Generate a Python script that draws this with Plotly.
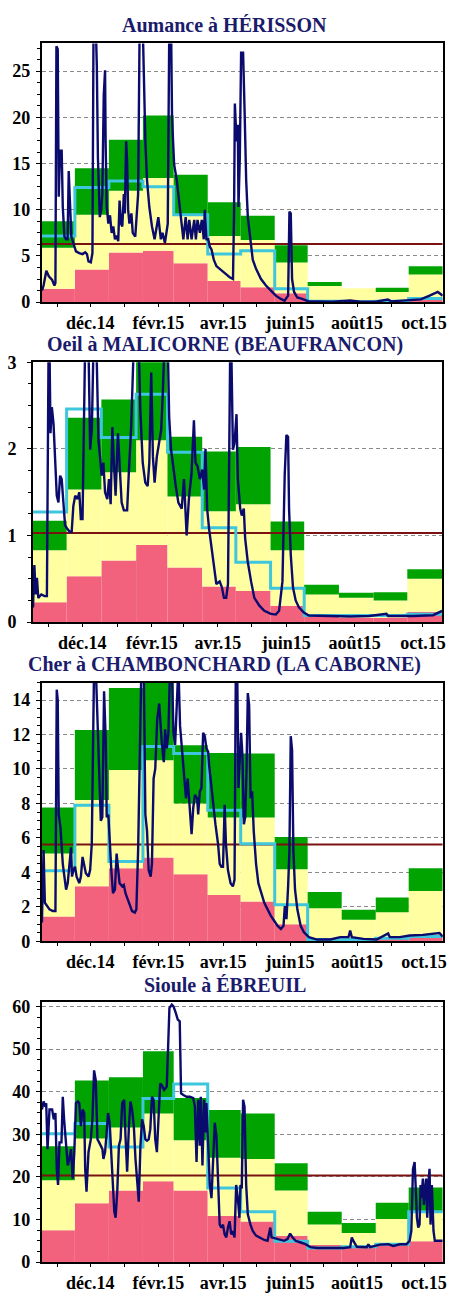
import pandas as pd
import plotly.graph_objects as go

# ---------------- data ----------------
titles = ["Aumance à HÉRISSON", "Oeil à MALICORNE (BEAUFRANCON)",
          "Cher à CHAMBONCHARD (LA CABORNE)", "Sioule à ÉBREUIL"]
tick_labels = ["", "déc.14", "", "févr.15", "", "avr.15", "", "juin15", "", "août15", "", "oct.15"]

# monthly bands (Nov 2014 .. Oct 2015): pink top, green bottom, green top
p1_low = [1.46, 3.52, 5.37, 5.55, 4.2, 2.28, 1.6, 0.95, 0.12, 0.1, 0.1, 0.3]
p1_mid = [5.9, 9.46, 12.06, 13.44, 9.46, 7.15, 6.72, 4.3, 1.74, 1.5, 1.1, 2.99]
p1_high = [8.75, 14.5, 17.57, 20.2, 13.8, 10.8, 9.35, 6.15, 2.17, 1.5, 1.56, 3.88]
p1_mean = [7.15, 12.4, 13.1, 12.5, 9.46, 5.2, 5.55, 1.46, 0.1, 0.05, 0.1, 0.4]
p1_module = 6.3

p2_low = [0.23, 0.53, 0.71, 0.89, 0.63, 0.41, 0.36, 0.19, 0.07, 0.05, 0.05, 0.12]
p2_mid = [0.83, 1.53, 1.73, 2.1, 1.45, 1.28, 1.36, 0.83, 0.32, 0.28, 0.25, 0.5]
p2_high = [1.17, 2.36, 2.57, 3.1, 2.14, 1.97, 2.02, 1.16, 0.43, 0.34, 0.345, 0.61]
p2_mean = [1.27, 2.46, 2.13, 2.63, 1.96, 1.09, 0.69, 0.39, 0.075, 0.075, 0.075, 0.09]
p2_module = 1.03

p3_low = [1.44, 3.2, 4.25, 4.86, 3.9, 2.69, 2.31, 0.99, 0.18, 0.15, 0.18, 0.36]
p3_mid = [5.1, 8.2, 9.94, 10.5, 8.0, 7.19, 7.19, 4.19, 1.92, 1.25, 1.69, 2.92]
p3_high = [7.76, 12.26, 14.69, 15.5, 11.37, 10.93, 10.9, 6.05, 2.87, 1.84, 2.54, 4.25]
p3_mean = [4.1, 7.9, 4.63, 11.3, 10.9, 7.6, 5.67, 2.13, 0.11, 0.11, 0.19, 0.28]
p3_module = 5.62

p4_low = [7.46, 13.8, 16.8, 19.0, 16.8, 10.8, 9.5, 6.2, 4.0, 3.8, 4.15, 4.9]
p4_mid = [19.2, 29.0, 31.6, 34.9, 28.6, 24.5, 24.2, 16.8, 8.8, 6.85, 10.1, 11.8]
p4_high = [27.2, 42.6, 43.4, 49.5, 38.5, 35.7, 34.9, 23.2, 11.8, 9.15, 13.9, 17.5]
p4_mean = [30.1, 32.5, 27.0, 38.4, 41.8, 17.4, 11.8, 4.9, 3.3, 3.6, 4.2, 11.8]
p4_module = 20.3

# daily flows: day offset from 2014-11-01, value (off-scale peaks estimated)
q1_day = [0, 1.5, 4, 6.3, 9.3, 11.4, 12.3, 13.2, 14.4, 15.3, 16.5, 18, 19, 20.5, 22, 23.4, 24.4, 25.6,
          26.8, 28.6, 31, 34, 37, 39.4, 41, 42.4, 44.5, 46, 47, 49, 50, 51, 52.7, 54, 55, 56.3, 57.5,
          58, 59, 60.5, 62, 63.5, 65, 66.5, 68, 69.5, 70.7, 72, 73.2, 74.6, 75.5, 76.7, 77.6, 78.5,
          79.7, 81.5, 82.7, 85, 87.6, 89, 91.8, 94.2, 95.7, 97.8, 100.2, 102.6, 104.7, 106, 108.3,
          109.8, 112, 114.6, 116, 117.6, 118.5, 120.4, 122.8, 124.3, 126.7, 128.8, 130.9, 132.7,
          134.2, 136.3, 138.7, 140.2, 141.7, 143.8, 145.6, 147.4, 148.3, 149.8, 151.4, 152.9, 154.4,
          156.5, 158.9, 161.9, 164.9, 167.9, 171, 174, 175, 175.7, 177.2, 178.4, 179, 180.2, 181.4,
          183.2, 184.5, 186, 187.5, 190, 192, 195, 199.5, 204, 208.5, 213, 217.6, 221, 224.2, 225.4,
          226.6, 227.8, 229.6, 232.6, 237, 243, 250.6, 265, 280.7, 290, 305, 315, 318, 335, 345, 353,
          360.5, 365]
q1_val = [1.25, 1.8, 3.4, 2.8, 2.4, 1.8, 2.1, 27.7, 27.4, 11.4, 16.4, 16.4, 10.3, 7.1, 6.8, 6.8, 14.2,
          11.0, 7.1, 6.4, 5.5, 5.3, 5.2, 5.4, 5.2, 4.4, 4.3, 5.3, 30, 30, 25.6, 15.6, 9.2, 10, 11.7,
          22.4, 25.1, 17.4, 10.3, 8.5, 9.4, 7.5, 8.2, 6.8, 7.2, 6.6, 11.0, 8.5, 8.2, 11.7, 9.6, 17.4,
          15.2, 10, 8.5, 9.6, 7.5, 7.1, 11.7, 30, 30, 17.4, 13.2, 10.3, 8.2, 6.8, 8.2, 9.2, 6.8, 7.5,
          6.4, 8.5, 30, 30, 19.9, 14.9, 13.2, 11.7, 8.9, 6.8, 9.2, 6.8, 8.9, 6.8, 8.9, 6.8, 8.9, 7.5,
          8.9, 6.8, 10, 6.8, 6.8, 6.0, 5.7, 4.6, 3.9, 3.6, 3.2, 3.0, 2.7, 2.5, 10, 21.5, 17.4, 19.2,
          10.3, 15.6, 27.0, 27, 21, 13.2, 9.2, 6.8, 4.6, 3.6, 2.5, 1.8, 1.2, 0.7, 0.35, 0.15, 0.7,
          9.8, 9.6, 2.5, 1.1, 0.5, 0.35, 0.07, 0.07, 0.05, 0.18, 0.05, 0.07, 0.28, 0.08, 0.18, 0.3,
          0.7, 1.1, 0.7]

q2_day = [0, 1.2, 2.4, 3.5, 4.7, 7.4, 10.3, 12.4, 13.9, 14.7, 15.6, 16.8, 18.3, 19.8, 21.2, 22.7,
          24.2, 25.6, 27.1, 28.6, 30.4, 33, 34.5, 36, 37.7, 39.8, 41.3, 42.7, 44.2, 46.5, 49.5, 51,
          52.5, 54, 56.6, 58.4, 59.8, 61.3, 62.8, 64.3, 66.3, 67.8, 69.3, 70.8, 72.2, 73.7, 75.8,
          77.3, 79.1, 81.1, 84, 85.5, 87.6, 89.9, 94.3, 95.8, 97.9, 100.2, 102.3, 103.8, 105.5, 107,
          108.5, 110.5, 112.6, 114.4, 115.9, 117.3, 120.3, 121.5, 123.2, 125.3, 127.4, 129.7, 132.7,
          134.7, 137.1, 139.1, 141.5, 143.6, 145, 146.8, 148.9, 151, 152.7, 153.9, 155.4, 157.1,
          159.2, 161.3, 163.6, 166.6, 168.6, 170.4, 172.4, 174, 176, 176.9, 178.4, 179.8, 181.6,
          182.8, 184.9, 186.3, 188.1, 189.3, 191.6, 194.6, 197.5, 202, 206.4, 212.3, 216.7, 219.6,
          222.6, 224.6, 226.1, 227.6, 228.5, 230, 232, 234.4, 237.3, 241.7, 246.2, 265, 283, 300,
          315.4, 317, 339, 357, 365]
q2_val = [0.17, 0.66, 0.32, 0.51, 0.28, 0.32, 0.3, 0.3, 3.2, 3.2, 2.18, 2.48, 2.29, 1.84, 1.46, 1.38,
          1.69, 1.65, 1.31, 1.12, 1.08, 1.04, 1.04, 1.34, 1.46, 1.42, 1.5, 1.19, 1.19, 3.2, 3.2, 1.99,
          2.22, 3.2, 3.2, 2.1, 1.91, 1.69, 1.84, 1.5, 1.42, 1.65, 1.36, 2.25, 1.84, 1.46, 2.18, 1.76,
          1.38, 1.29, 1.29, 1.72, 2.25, 3.2, 3.2, 2.44, 1.84, 1.61, 1.57, 1.84, 2.88, 1.91, 1.61,
          1.91, 2.06, 2.22, 2.67, 3.2, 3.2, 2.37, 1.99, 1.76, 1.57, 1.38, 1.31, 1.65, 1.0, 1.42, 1.72,
          2.33, 1.84, 1.8, 1.65, 1.76, 1.53, 2.0, 1.31, 1.08, 0.85, 0.63, 0.44, 0.47, 0.4, 0.28, 0.28,
          0.44, 3.2, 3.2, 1.99, 2.06, 2.4, 1.65, 1.31, 1.23, 1.31, 0.97, 0.7, 0.47, 0.28, 0.19, 0.13,
          0.095, 0.087, 0.13, 0.47, 1.69, 2.16, 2.14, 1.31, 0.78, 0.4, 0.25, 0.17, 0.11, 0.076, 0.07,
          0.065, 0.07, 0.095, 0.07, 0.07, 0.08, 0.13]

q3_day = [0, 1.5, 2.7, 4.5, 6.9, 9.9, 12.3, 13.5, 14.4, 15.3, 16.9, 19, 20.5, 22, 23.5, 25, 26.5,
          27.4, 28.6, 30.1, 31.6, 34, 35.5, 37, 38.5, 40, 42.4, 43.9, 45.4, 46.6, 47.5, 49, 50.9, 52,
          53.6, 55, 56.6, 58.1, 59, 60.5, 61.7, 63.2, 64.7, 66.5, 68, 69.5, 70.7, 73.1, 74.6, 76.1,
          79.1, 82.1, 84.6, 86, 87.6, 89, 90.6, 92.7, 94.2, 95.7, 97.2, 99, 100.2, 101.7, 103.2, 105,
          106.8, 109.2, 111, 112.2, 113.7, 115.2, 116.7, 118.3, 119.8, 121.3, 122.8, 124.3, 125.8,
          127.9, 129.7, 131.2, 132.7, 134.8, 136.3, 137.8, 139.3, 141.4, 142.3, 143.8, 145.3, 146.8,
          148.3, 149.8, 151.4, 152.3, 153.8, 155.9, 158, 160.4, 161.9, 163.4, 164.9, 166.4, 167.6,
          169.4, 171.8, 173.9, 175.4, 176.6, 177.8, 179, 180.5, 181.4, 182.6, 183.9, 185.1, 186.3,
          187.5, 188.7, 190, 191.4, 192.9, 195, 197.1, 199.5, 202.5, 205.5, 208.5, 211.5, 214.5,
          217.6, 220, 221.2, 222.7, 224.2, 225.4, 226.6, 227.8, 229, 230.5, 232.6, 235.6, 238.6,
          243.1, 250.6, 262.7, 271.7, 279.2, 280.7, 282.2, 292.8, 304.8, 315.3, 316.8, 325.9, 334.9,
          346.9, 359, 362, 365]
q3_val = [1.1, 5.3, 2.24, 2.05, 1.86, 1.76, 1.76, 14.6, 14.0, 7.36, 6.6, 4.5, 3.76, 3.0, 3.38, 4.5,
          5.46, 3.76, 4.14, 4.33, 3.76, 3.38, 3.76, 4.9, 4.33, 3.95, 3.76, 4.14, 5.65, 11.7, 16, 16,
          12.5, 10.2, 7.0, 7.2, 14.5, 11.7, 7.2, 7.36, 5.65, 4.14, 2.8, 3.0, 5.09, 3.95, 3.38, 3.2,
          3.28, 2.8, 2.24, 1.76, 1.67, 1.86, 5.28, 11.7, 16, 16, 7.36, 6.41, 4.14, 3.76, 4.5, 9.45,
          10.0, 12.9, 13.8, 11.5, 10.4, 12.3, 11.2, 12.1, 16, 16, 12.1, 11.4, 14.6, 16, 12.5, 11.0,
          9.45, 8.3, 9.45, 7.55, 6.22, 7.74, 8.5, 8.3, 7.36, 8.7, 8.9, 12.1, 11.9, 11.2, 11.0, 10.2,
          9.26, 7.93, 6.8, 5.65, 4.5, 4.33, 4.33, 7.93, 5.65, 4.14, 3.38, 3.19, 3.57, 16, 16, 8.9,
          10.8, 12.1, 10.8, 6.8, 7.2, 9.9, 14.4, 13.7, 8.3, 8.7, 6.4, 4.5, 3.38, 2.8, 2.24, 1.86,
          1.48, 1.2, 0.91, 0.72, 0.91, 2.05, 1.29, 3.19, 5.28, 11.9, 11.1, 5.28, 3.0, 1.86, 0.91,
          0.53, 0.25, 0.11, 0.11, 0.25, 0.25, 0.63, 0.25, 0.15, 0.11, 0.47, 0.25, 0.25, 0.34, 0.38,
          0.44, 0.49, 0.28]

q4_day = [0, 1.5, 3, 3.9, 5.1, 6.9, 9.3, 10.8, 12.3, 13.5, 14.7, 16, 17.8, 19, 20.2, 22, 23.5, 25,
          26.5, 28, 29.5, 31, 32.8, 34, 35.5, 37, 38.5, 39.4, 40.6, 42.4, 44.5, 46, 47.5, 49, 50.6,
          52.1, 53.6, 55.1, 56, 57.5, 58.7, 60.2, 61.7, 63.2, 64.7, 65.9, 67.1, 68.6, 70.1, 71.6,
          73.1, 74.9, 76.1, 77.6, 79.1, 80.6, 82.1, 83.7, 85.2, 86.7, 88.2, 89.7, 91.2, 92.7, 94.2,
          95.7, 97.2, 98.7, 100.2, 101.7, 103.2, 104.7, 106.2, 107.7, 109.2, 111.3, 113.7, 115.2,
          116.1, 118.3, 119.8, 121.9, 123.7, 125.5, 126.7, 128.8, 131.8, 134.8, 137.8, 139.3, 140.8,
          142.3, 143.8, 144.7, 146.2, 147.7, 148.9, 149.8, 151.4, 152.9, 154.4, 155.9, 157.4, 158.9,
          160.4, 161.9, 163.4, 164.9, 166.4, 167.9, 169.4, 170.9, 172.4, 173.9, 175.4, 176.9, 178.4,
          179.9, 180.8, 182, 183.2, 184.5, 186, 187.5, 189.9, 192, 195, 198, 202.5, 205.5, 208,
          209.1, 211.5, 216, 220.6, 223.6, 226, 228, 231, 235.6, 240, 244.6, 250.6, 262.7, 274.7,
          280.7, 282.2, 284.4, 286.8, 295.8, 297.3, 298.8, 307.8, 315.3, 319.8, 325.9, 331.9, 334.9,
          336.4, 337.9, 339.4, 340.3, 341.5, 342.7, 343.9, 344.8, 345.7, 346.9, 347.8, 349, 349.9,
          350.9, 351.8, 353, 353.9, 355.1, 356.6, 357.8, 365]
q4_val = [35.8, 37.7, 36.5, 37.3, 26.5, 35.8, 35.8, 33.5, 35, 21.9, 18.1, 28.1, 28.1, 38.8, 33.5,
          26.5, 22.7, 24.2, 26.5, 19.6, 25.8, 37.3, 37.7, 37.3, 31.9, 35.8, 35, 21.9, 16.5, 25.8, 28.8,
          33.5, 45, 42.7, 28.8, 28.1, 27.3, 26.5, 24.2, 25.8, 29.6, 35, 32.7, 24.2, 18.8, 11.9, 10.4,
          16.5, 27.3, 28.8, 37.3, 38.1, 29.6, 21.2, 31.2, 37.7, 35.8, 31.9, 24.2, 18.8, 14.2, 27.3,
          33.5, 31.9, 28.8, 28.5, 28.8, 31.2, 38.8, 38.1, 28.8, 25.8, 34.2, 41.9, 41.5, 40.4, 41.2,
          51.2, 59.6, 60.4, 60, 58.5, 56.9, 56.5, 39.6, 39.2, 38.8, 38.8, 38.5, 36.5, 23.5, 38.1, 27.3,
          38.8, 22.7, 38.1, 30.4, 37.3, 28.8, 18.1, 15, 22.7, 32.7, 29.6, 18.1, 8.8, 8.1, 8.8, 6.5,
          5.8, 8.1, 9.6, 6.5, 7.3, 5.8, 18.1, 15, 10.4, 18.1, 17.3, 38.1, 36.5, 18.1, 11.2, 8.8, 7.3,
          6.2, 5.8, 5.2, 5.0, 8.1, 5.8, 5.6, 5.2, 5.0, 5.4, 6.7, 5.9, 5.0, 4.6, 4.2, 3.5, 3.3, 3.3,
          3.3, 3.5, 5.8, 4.6, 3.6, 3.5, 4.2, 3.5, 4.1, 4.2, 3.8, 4.2, 4.2, 5.0, 7.3, 21.9, 23.5, 18.1,
          10.4, 8.1, 8.8, 18.1, 15, 19.6, 13.4, 17.3, 19.6, 10.4, 18.1, 21.9, 8.8, 18.1, 7.3, 5.0,
          5.0]

panels = [
    dict(low=p1_low, mid=p1_mid, high=p1_high, mean=p1_mean, module=p1_module, day=q1_day, val=q1_val,
         yr=[0, 28], dt=5),
    dict(low=p2_low, mid=p2_mid, high=p2_high, mean=p2_mean, module=p2_module, day=q2_day, val=q2_val,
         yr=[0, 3], dt=1),
    dict(low=p3_low, mid=p3_mid, high=p3_high, mean=p3_mean, module=p3_module, day=q3_day, val=q3_val,
         yr=[0, 15], dt=2),
    dict(low=p4_low, mid=p4_mid, high=p4_high, mean=p4_mean, module=p4_module, day=q4_day, val=q4_val,
         yr=[0, 61], dt=10),
]

# ---------------- layout geometry (pixels) ----------------
W, H = 450, 1298
plot_px = [  # left, right, top, bottom
    (42.3, 446.7, 34.0, 296.7),
    (33.3, 446.0, 357.7, 621.7),
    (42.3, 446.7, 683.3, 946.0),
    (42.3, 446.7, 1007.7, 1271.7),
]
ylabel_standoff = [2, 7, 2, 2]
title_y_px = [15, 340, 665, 990]

PINK, YELLOW, GREEN = "#f2627c", "#ffffa2", "#00a300"
CYAN, NAVY, DARKRED = "#3ec6dc", "#0b0b6e", "#7a1212"
FONT = "Liberation Serif"

month_starts = pd.date_range("2014-11-01", periods=13, freq="MS")
m_len = month_starts[1:] - month_starts[:-1]
m_center = month_starts[:-1] + m_len / 2
m_width = [td.total_seconds() * 1000 for td in m_len]
mid_month = month_starts[:-1] + pd.Timedelta(days=14)
start, end = month_starts[0], month_starts[-1]

fig = go.Figure()
for i, p in enumerate(panels):
    n = "" if i == 0 else str(i + 1)
    xa, ya = "x" + n, "y" + n
    low, mid, high = p["low"], p["mid"], p["high"]
    fig.add_trace(go.Bar(x=m_center, y=low, base=[0] * 12, width=m_width, marker_color=PINK,
                         marker_line_width=0, xaxis=xa, yaxis=ya, showlegend=False))
    fig.add_trace(go.Bar(x=m_center, y=[m - l for m, l in zip(mid, low)], base=low, width=m_width,
                         marker_color=YELLOW, marker_line_width=0, xaxis=xa, yaxis=ya, showlegend=False))
    fig.add_trace(go.Bar(x=m_center, y=[h - m for h, m in zip(high, mid)], base=mid, width=m_width,
                         marker_color=GREEN, marker_line_width=0, xaxis=xa, yaxis=ya, showlegend=False))
    fig.add_trace(go.Scatter(x=[start, end], y=[p["module"]] * 2, mode="lines",
                             line=dict(color=DARKRED, width=2), xaxis=xa, yaxis=ya, showlegend=False))
    fig.add_trace(go.Scatter(x=list(month_starts), y=p["mean"] + [p["mean"][-1]], mode="lines",
                             line=dict(color=CYAN, width=3, shape="hv"), xaxis=xa, yaxis=ya,
                             showlegend=False))
    dates = start + pd.to_timedelta(p["day"], unit="D")
    fig.add_trace(go.Scatter(x=dates, y=p["val"], mode="lines", line=dict(color=NAVY, width=2.4),
                             xaxis=xa, yaxis=ya, showlegend=False))

    l, r, t, b = plot_px[i]
    axfont = dict(family=FONT, size=18, color="black", weight="bold")
    fig.layout["xaxis" + n] = dict(
        domain=[l / W, r / W], anchor=ya, type="date", range=[start, end],
        tickmode="array", tickvals=list(mid_month), ticktext=tick_labels,
        ticks="outside", ticklen=3, tickcolor="black", tickfont=axfont, ticklabeloverflow="allow",
        showgrid=False, showline=True, linecolor="black", linewidth=2, mirror=True, zeroline=False)
    fig.layout["yaxis" + n] = dict(
        domain=[1 - b / H, 1 - t / H], anchor=xa, range=p["yr"], dtick=p["dt"], tick0=0,
        ticks="outside", ticklen=4, tickcolor="black", tickfont=axfont,
        ticklabelstandoff=ylabel_standoff[i],
        minor=dict(dtick=p["dt"] / 4, ticks="outside", ticklen=3, tickcolor="black", showgrid=False),
        showgrid=True, gridcolor="#8a8a8a", griddash="4px,3px", gridwidth=1,
        showline=True, linecolor="black", linewidth=2, mirror=True, zeroline=False)
    fig.add_annotation(text="<b>" + titles[i] + "</b>", xref="paper", yref="paper",
                       x=227 / W, y=1 - title_y_px[i] / H, xanchor="center", yanchor="middle",
                       showarrow=False, font=dict(family=FONT, size=20, color="#1b1b6b"))

fig.update_layout(width=W, height=H, margin=dict(l=0, r=0, t=0, b=0), barmode="overlay",
                  plot_bgcolor="white", paper_bgcolor="white", showlegend=False)
fig.write_html("out.html", config={"responsive": False, "displayModeBar": False},
               post_script="document.body.style.margin='0';"
                           "document.documentElement.style.overflow='hidden';"
                           "document.body.style.overflow='hidden';")
